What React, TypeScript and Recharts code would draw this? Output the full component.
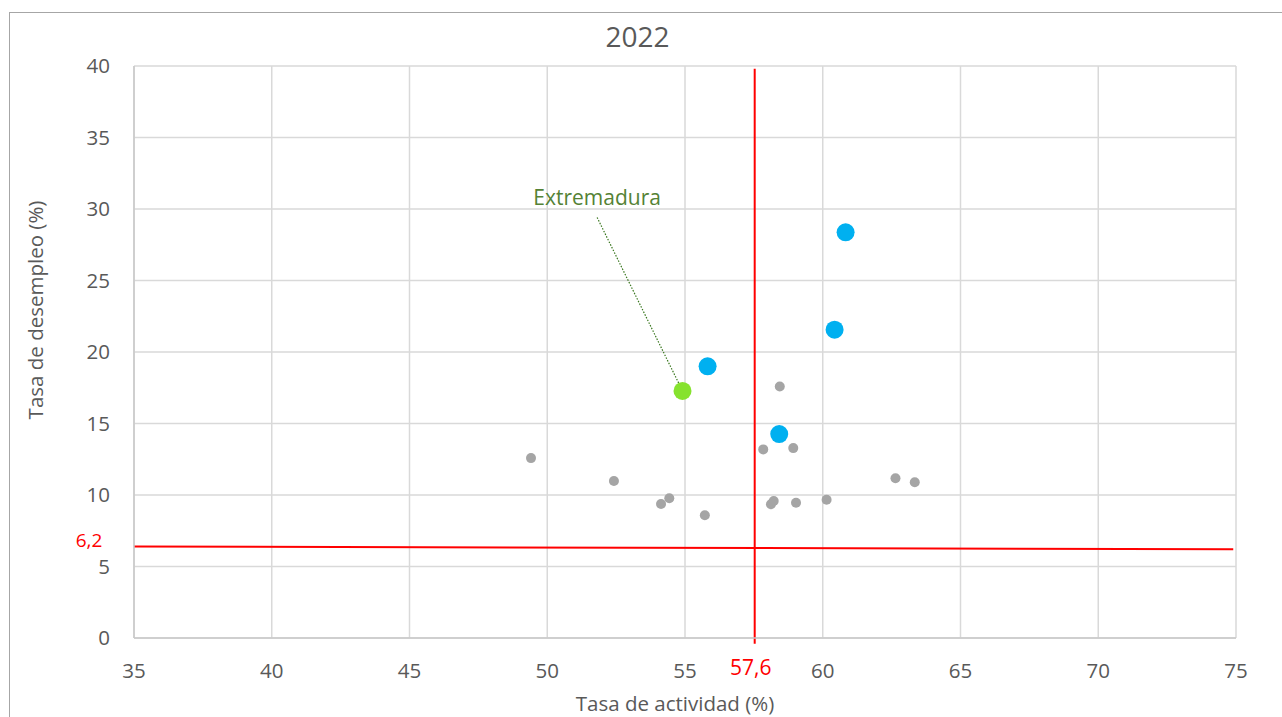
import React from 'react';
import { ScatterChart, Scatter, XAxis, YAxis, CartesianGrid, ReferenceLine, ReferenceDot } from 'recharts';

const xTicks = [35, 40, 45, 50, 55, 60, 65, 70, 75];
const yTicks = [0, 5, 10, 15, 20, 25, 30, 35, 40];

// resto de comunidades (gris)
const otherX = [49.41, 52.42, 54.13, 54.43, 55.72, 57.84, 58.12, 58.22, 58.44, 58.93, 59.03, 60.14, 62.64, 63.34];
const otherY = [12.58, 10.98, 9.37, 9.77, 8.58, 13.19, 9.35, 9.58, 17.59, 13.28, 9.46, 9.67, 11.17, 10.89];

// comunidades destacadas (azul)
const highX = [55.82, 58.42, 60.43, 60.83];
const highY = [19.0, 14.26, 21.56, 28.37];

// Extremadura (verde)
const extX = [54.91];
const extY = [17.28];
const extLabel = 'Extremadura';
const extLabelAt = { x: 51.81, y: 30.79, lineY: 29.41 };

// medias nacionales (las líneas están dibujadas a mano en el original)
const meanActividadLine = 57.53;
const meanDesempleo = 6.2;
const meanActividadText = '57,6';
const meanDesempleoText = '6,2';

const FONT = '"Open Sans", sans-serif';
const TEXT = '#595959';

const toPoints = (xs: number[], ys: number[]) => xs.map((x, i) => ({ x, y: ys[i] }));

const otherData = toPoints(otherX, otherY);
const highData = toPoints(highX, highY);
const extData = toPoints(extX, extY);

const dot = (r: number, fill: string) => (p: any) => <circle cx={p.cx} cy={p.cy} r={r} fill={fill} />;

const App: React.FC = () => {
  return (
    <div style={{ position: 'absolute', left: 0, top: 0, width: 1282, height: 717, overflow: 'hidden', background: '#fff' }}>
      <div style={{ position: 'absolute', left: 9, top: 12, width: 1400, height: 900, borderTop: '1px solid #a6a6a6', borderLeft: '1px solid #a6a6a6' }} />
      <div style={{ position: 'absolute', left: 0, top: 20, width: 1275, textAlign: 'center', fontFamily: FONT, fontSize: 28, lineHeight: '32px', color: TEXT }}>
        2022
      </div>
      <div style={{ position: 'absolute', left: 0, top: 0 }}>
        <ScatterChart width={1282} height={717} margin={{ top: 66, right: 46, bottom: 0, left: 0 }}>
          <CartesianGrid stroke="#d9d9d9" strokeWidth={1.5} />
          <XAxis
            type="number"
            dataKey="x"
            domain={[35, 75]}
            ticks={xTicks}
            interval={0}
            height={79}
            tickLine={false}
            tickMargin={19}
            axisLine={{ stroke: '#c8c8c8', strokeWidth: 1.5 }}
            tick={{ fill: TEXT, fontSize: 20.5, fontFamily: FONT }}
            label={{
              content: (p: any) => {
                const vb = p.viewBox;
                return (
                  <text x={vb.x + vb.width / 2 - 10} y={vb.y + 65} textAnchor="middle" dominantBaseline="central" fill={TEXT} fontSize={20.5} fontFamily={FONT}>
                    Tasa de actividad (%)
                  </text>
                );
              },
            }}
          />
          <YAxis
            type="number"
            dataKey="y"
            domain={[0, 40]}
            ticks={yTicks}
            interval={0}
            width={134}
            tickLine={false}
            tickMargin={18}
            axisLine={{ stroke: '#c8c8c8', strokeWidth: 1.5 }}
            tick={{ fill: TEXT, fontSize: 20.5, fontFamily: FONT }}
            label={{
              content: (p: any) => {
                const vb = p.viewBox;
                const cx = vb.x + 35;
                const cy = vb.y + vb.height / 2 - 42;
                return (
                  <text x={cx} y={cy} transform={`rotate(-90, ${cx}, ${cy})`} textAnchor="middle" dominantBaseline="central" fill={TEXT} fontSize={20.5} fontFamily={FONT}>
                    Tasa de desempleo (%)
                  </text>
                );
              },
            }}
          />
          <Scatter data={otherData} isAnimationActive={false} shape={dot(5, '#a5a5a5')} />
          <Scatter data={highData} isAnimationActive={false} shape={dot(9, '#00b0f0')} />
          <Scatter data={extData} isAnimationActive={false} shape={dot(9, '#86e22e')} />
          <ReferenceLine
            segment={[{ x: extLabelAt.x, y: extLabelAt.lineY }, { x: extX[0], y: extY[0] }]}
            stroke="#38761d"
            strokeWidth={1.2}
            strokeDasharray="1.5 1.5"
          />
          <ReferenceDot
            x={extLabelAt.x}
            y={extLabelAt.y}
            r={1}
            fill="none"
            stroke="none"
            label={{ value: extLabel, position: 'center', fill: '#548235', fontSize: 21, fontFamily: FONT }}
          />
          <ReferenceLine
            segment={[{ x: meanActividadLine, y: 39.8 }, { x: meanActividadLine, y: -0.4 }]}
            ifOverflow="visible"
            stroke="#ff0000"
            strokeWidth={2}
            label={{
              content: (p: any) => {
                const vb = p.viewBox;
                return (
                  <text x={vb.x - 4} y={vb.y + vb.height + 23} textAnchor="middle" dominantBaseline="central" fill="#ff0000" fontSize={21} fontFamily={FONT}>
                    {meanActividadText}
                  </text>
                );
              },
            }}
          />
          <ReferenceLine
            segment={[{ x: 35, y: 6.4 }, { x: 74.9, y: meanDesempleo }]}
            ifOverflow="visible"
            stroke="#ff0000"
            strokeWidth={2}
            label={{
              content: (p: any) => {
                const vb = p.viewBox;
                return (
                  <text x={vb.x - 45} y={vb.y - 6} textAnchor="middle" dominantBaseline="central" fill="#ff0000" fontSize={19} fontFamily={FONT}>
                    {meanDesempleoText}
                  </text>
                );
              },
            }}
          />
        </ScatterChart>
      </div>
    </div>
  );
};

export default App;
